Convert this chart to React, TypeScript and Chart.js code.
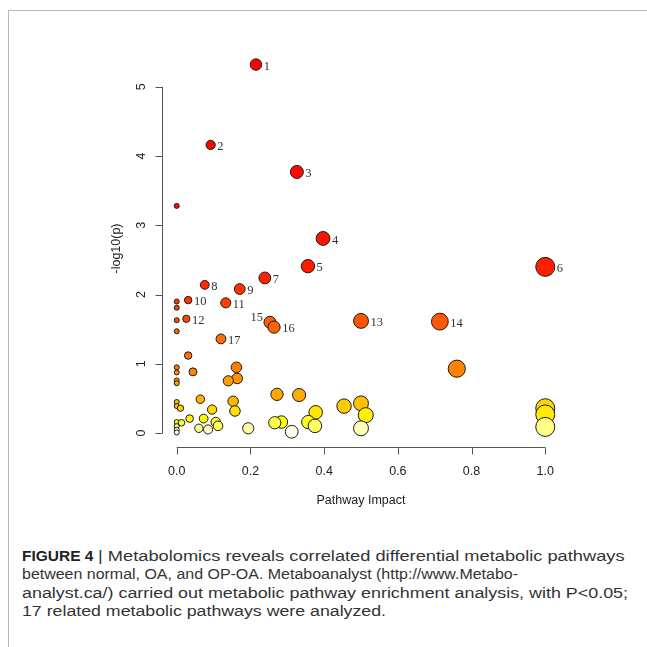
import React, { useEffect, useLayoutEffect, useRef } from "react";
import { Chart, registerables } from "chart.js";

Chart.register(...registerables);

// Pathway impact (x) and -log10(p) (y), ordered by p value
const impact = [
  0.215, 0.092, 0.326, 0, 0.397, 0.356, 1.0, 0.239, 0.076, 0.171,
  0.031, 0, 0.133, 0, 0.026, 0, 0.5, 0.714, 0.253, 0.264,
  0, 0.12, 0.031, 0, 0.162, 0.76, 0.044, 0, 0.164, 0,
  0.14, 0, 0.272, 0.332, 0.064, 0.153, 0, 0.5, 0, 0.454,
  0.01, 1.0, 0.096, 0.158, 0.377, 1.0, 0.513, 0.035, 0.073, 0,
  0.284, 0.357, 0.106, 0.013, 0.266, 0.112, 0.375, 0, 1.0, 0.06,
  0.194, 0.5, 0.085, 0, 0.312, 0,
];
const logP = [
  5.32, 4.16, 3.77, 3.28, 2.81, 2.41, 2.40, 2.24, 2.14, 2.08,
  1.92, 1.90, 1.88, 1.81, 1.65, 1.63, 1.62, 1.61, 1.60, 1.53,
  1.47, 1.36, 1.12, 0.95, 0.95, 0.93, 0.885, 0.876, 0.79, 0.76,
  0.755, 0.72, 0.56, 0.55, 0.49, 0.46, 0.45, 0.43, 0.39, 0.39,
  0.36, 0.36, 0.34, 0.32, 0.30, 0.27, 0.26, 0.21, 0.21, 0.16,
  0.16, 0.16, 0.16, 0.15, 0.15, 0.105, 0.105, 0.10, 0.09, 0.07,
  0.07, 0.07, 0.053, 0.05, 0.02, 0.01,
];
const pointLabels = [
  "1", "2", "3", "", "4", "5", "6", "7", "8", "9",
  "10", "", "11", "", "12", "", "13", "14", "15", "16",
  "", "17",
];

const xTicks = [0, 0.2, 0.4, 0.6, 0.8, 1.0];
const xTickLabels = ["0.0", "0.2", "0.4", "0.6", "0.8", "1.0"];
const yTicks = [0, 1, 2, 3, 4, 5];
const yTickLabels = ["0", "1", "2", "3", "4", "5"];

const xTitle = "Pathway Impact";
const yTitle = "-log10(p)";

const captionHead = "FIGURE 4";
const captionLines = [
  " | Metabolomics reveals correlated differential metabolic pathways",
  "between normal, OA, and OP-OA. Metaboanalyst (http://www.Metabo-",
  "analyst.ca/) carried out metabolic pathway enrichment analysis, with P<0.05;",
  "17 related metabolic pathways were analyzed.",
];
// right edge of each caption line in the reference (px)
const captionRightEdges = [625, 518, 628, 386];

const LEFT_LABELS = ["15"];

function hsv(h: number, s: number, v: number) {
  const h6 = h * 6;
  const i = Math.floor(h6) % 6;
  const f = h6 - Math.floor(h6);
  const p = v * (1 - s);
  const q = v * (1 - s * f);
  const t = v * (1 - s * (1 - f));
  let r = 0, g = 0, b = 0;
  if (i === 0) { r = v; g = t; b = p; }
  else if (i === 1) { r = q; g = v; b = p; }
  else if (i === 2) { r = p; g = v; b = t; }
  else if (i === 3) { r = p; g = q; b = v; }
  else if (i === 4) { r = t; g = p; b = v; }
  else { r = v; g = p; b = q; }
  return `rgb(${Math.round(r * 255)},${Math.round(g * 255)},${Math.round(b * 255)})`;
}

// R's heat.colors(n)
function heatColors(n: number) {
  const j = Math.floor(n / 4);
  const i = n - j;
  const out: string[] = [];
  for (let k = 0; k < i; k++) out.push(hsv(i > 1 ? (k / (i - 1)) / 6 : 0, 1, 1));
  for (let k = 0; k < j; k++) {
    const from = 1 - 1 / (2 * j);
    const to = 1 / (2 * j);
    const s = j > 1 ? from + ((to - from) * k) / (j - 1) : from;
    out.push(hsv(1 / 6, s, 1));
  }
  return out;
}

const radiusFor = (x: number) => 2.5 + 7 * Math.sqrt(Math.max(0, x));

const CAP_LEFT = 22;

export default function App() {
  const ref = useRef<HTMLCanvasElement>(null);
  const headRef = useRef<HTMLDivElement | null>(null);
  const lineRefs = useRef<(HTMLDivElement | null)[]>([]);

  useLayoutEffect(() => {
    const headW = headRef.current ? headRef.current.getBoundingClientRect().width : 0;
    lineRefs.current.forEach((el, i) => {
      if (!el) return;
      const left = i === 0 ? CAP_LEFT + headW : CAP_LEFT;
      el.style.left = `${left}px`;
      const w = el.getBoundingClientRect().width;
      if (w > 0) el.style.transform = `scaleX(${(captionRightEdges[i] - left) / w})`;
    });
  }, []);

  useEffect(() => {
    if (!ref.current) return;
    const n = logP.length;
    const order = logP.map((_, i) => i).sort((a, b) => logP[b] - logP[a]);
    const pal = heatColors(n);
    const colors: string[] = new Array(n);
    order.forEach((idx, rank) => (colors[idx] = pal[rank]));

    const axesPlugin = {
      id: "rAxes",
      afterDatasetsDraw(chart: any) {
        const ctx = chart.ctx;
        const meta = chart.getDatasetMeta(0);
        ctx.save();
        ctx.fillStyle = "#333";
        ctx.font = "12.5px 'Liberation Serif', serif";
        ctx.textBaseline = "middle";
        meta.data.forEach((el: any, i: number) => {
          const lab = pointLabels[i];
          if (!lab) return;
          const r = radiusFor(impact[i]);
          if (LEFT_LABELS.includes(lab)) {
            ctx.textAlign = "right";
            ctx.fillText(lab, el.x - r - 1, el.y - 5);
          } else {
            ctx.textAlign = "left";
            ctx.fillText(lab, el.x + r + 2, el.y + 2);
          }
        });
        ctx.restore();
      },
      afterDraw(chart: any) {
        const ctx = chart.ctx;
        const xs = chart.scales.x;
        const ys = chart.scales.y;
        const area = chart.chartArea;
        ctx.save();
        ctx.strokeStyle = "#555";
        ctx.lineWidth = 1;
        const by = Math.round(area.bottom) + 0.5;
        const lx = Math.round(area.left) + 0.5;
        ctx.beginPath();
        ctx.moveTo(xs.getPixelForValue(xTicks[0]), by);
        ctx.lineTo(xs.getPixelForValue(xTicks[xTicks.length - 1]), by);
        xTicks.forEach((t) => {
          const px = Math.round(xs.getPixelForValue(t)) + 0.5;
          ctx.moveTo(px, by);
          ctx.lineTo(px, by + 7);
        });
        ctx.moveTo(lx, ys.getPixelForValue(yTicks[0]));
        ctx.lineTo(lx, ys.getPixelForValue(yTicks[yTicks.length - 1]));
        yTicks.forEach((t) => {
          const py = Math.round(ys.getPixelForValue(t)) + 0.5;
          ctx.moveTo(lx, py);
          ctx.lineTo(lx - 7, py);
        });
        ctx.stroke();

        ctx.fillStyle = "#222";
        ctx.font = "12.5px 'Liberation Sans', Arial, sans-serif";
        ctx.textAlign = "center";
        ctx.textBaseline = "middle";
        xTicks.forEach((t, i) => {
          ctx.fillText(xTickLabels[i], xs.getPixelForValue(t), by + 24);
        });
        ctx.fillText(xTitle, (area.left + area.right) / 2, by + 53);
        yTicks.forEach((t, i) => {
          ctx.save();
          ctx.translate(lx - 21, ys.getPixelForValue(t));
          ctx.rotate(-Math.PI / 2);
          ctx.fillText(yTickLabels[i], 0, 0);
          ctx.restore();
        });
        ctx.save();
        ctx.translate(lx - 46, (area.top + area.bottom) / 2);
        ctx.rotate(-Math.PI / 2);
        ctx.fillText(yTitle, 0, 0);
        ctx.restore();
        ctx.restore();
      },
    };

    const chart = new Chart(ref.current, {
      type: "scatter",
      data: {
        datasets: [
          {
            data: impact.map((x, i) => ({ x, y: logP[i] })),
            pointRadius: (c: any) => radiusFor(impact[c.dataIndex] ?? 0),
            pointHoverRadius: (c: any) => radiusFor(impact[c.dataIndex] ?? 0),
            backgroundColor: colors,
            borderColor: "#1a1a1a",
            borderWidth: 1,
            clip: false as any,
          },
        ],
      },
      options: {
        animation: false,
        responsive: false,
        events: [],
        layout: { padding: { left: 162, right: 87, top: 50, bottom: 83 } },
        plugins: { legend: { display: false }, tooltip: { enabled: false } },
        scales: {
          x: { type: "linear", min: -0.04, max: 1.04, display: false },
          y: { type: "linear", min: -0.2, max: 5.53, display: false },
        },
      },
      plugins: [axesPlugin],
    });
    return () => chart.destroy();
  }, []);

  const lineStyle: React.CSSProperties = {
    position: "absolute",
    left: CAP_LEFT,
    display: "inline-block",
    whiteSpace: "pre",
    fontFamily: "'Liberation Sans', Arial, sans-serif",
    fontSize: 15.5,
    lineHeight: "18px",
    color: "#333",
    transformOrigin: "0 50%",
  };

  return (
    <div style={{ position: "absolute", left: 0, top: 0, width: 647, height: 647, background: "#fff", overflow: "hidden" }}>
      <div
        style={{
          position: "absolute",
          left: 8,
          top: 10,
          right: 0,
          bottom: 0,
          borderTop: "1px solid #b8b8b8",
          borderLeft: "1px solid #b8b8b8",
        }}
      />
      <canvas ref={ref} width={647} height={530} style={{ position: "absolute", left: 0, top: 0, width: 647, height: 530 }} />
      <div ref={headRef} style={{ ...lineStyle, top: 547, fontWeight: "bold", color: "#222" }}>
        {captionHead}
      </div>
      {captionLines.map((t, i) => (
        <div
          key={i}
          ref={(el) => { lineRefs.current[i] = el; }}
          style={{ ...lineStyle, top: 547 + i * 18.3 }}
        >
          {t}
        </div>
      ))}
    </div>
  );
}
